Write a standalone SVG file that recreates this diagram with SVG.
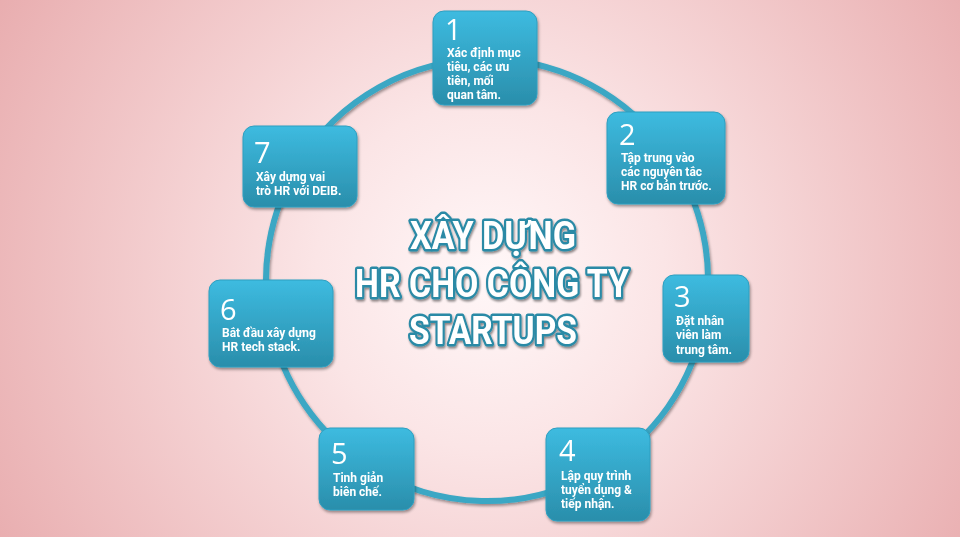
<svg xmlns="http://www.w3.org/2000/svg" width="960" height="537" viewBox="0 0 960 537">
<defs>
<radialGradient id="bg" gradientUnits="userSpaceOnUse" cx="490" cy="275" r="580">
<stop offset="0" stop-color="#fff7f8"/>
<stop offset="0.3" stop-color="#fbe5e6"/>
<stop offset="1" stop-color="#e8abad"/>
</radialGradient>
<linearGradient id="nodeg" x1="0" y1="0" x2="0" y2="1">
<stop offset="0" stop-color="#3dbbe0"/>
<stop offset="1" stop-color="#2a8eab"/>
</linearGradient>
<filter id="sh" x="-20%" y="-20%" width="140%" height="140%">
<feGaussianBlur in="SourceAlpha" stdDeviation="1.5"/>
<feOffset dx="1" dy="2" result="b"/>
<feComponentTransfer><feFuncA type="linear" slope="0.4"/></feComponentTransfer>
<feMerge><feMergeNode/><feMergeNode in="SourceGraphic"/></feMerge>
</filter>
<filter id="tsh" x="-10%" y="-20%" width="120%" height="140%">
<feGaussianBlur in="SourceAlpha" stdDeviation="1.2"/>
<feOffset dx="1" dy="2"/>
<feComponentTransfer><feFuncA type="linear" slope="0.45"/></feComponentTransfer>
<feMerge><feMergeNode/><feMergeNode in="SourceGraphic"/></feMerge>
</filter>
</defs>
<style>
.box{fill:url(#nodeg);stroke:#2f9fc0;stroke-width:1}
.num{font-family:"Open Sans","Liberation Sans",sans-serif;font-size:29px;font-weight:400;fill:#ffffff}
.lbl{font-family:Roboto,"Liberation Sans",sans-serif;font-size:12px;font-weight:bold;fill:#ffffff}
.arc{fill:none;stroke:#3aa7c4;stroke-width:6}
.title{font-family:Roboto,"Liberation Sans",sans-serif;font-size:39px;font-weight:bold;fill:#ffffff;stroke:#2a8aa6;stroke-width:5;stroke-linejoin:round;paint-order:stroke fill;text-anchor:middle}
</style>
<rect width="960" height="537" fill="url(#bg)"/>
<g id="connectors" filter="url(#sh)">
<path class="arc" d="M487,59 A221,221 0 0 1 669.6,155.5"/>
<path class="arc" d="M669.6,155.5 A221,221 0 0 1 704.8,317.8"/>
<path class="arc" d="M704.8,317.8 A221,221 0 0 1 596.3,472.1"/>
<path class="arc" d="M596.3,472.1 A221,221 0 0 1 367.9,466.2"/>
<path class="arc" d="M367.9,466.2 A221,221 0 0 1 270.3,323.3"/>
<path class="arc" d="M270.3,323.3 A221,221 0 0 1 298.4,164.9"/>
<path class="arc" d="M298.4,164.9 A221,221 0 0 1 487,59"/>
</g>
<g id="title" filter="url(#tsh)">
<text class="title" x="493" y="249" textLength="166" lengthAdjust="spacingAndGlyphs">XÂY DỰNG</text>
<text class="title" x="492" y="297" textLength="274" lengthAdjust="spacingAndGlyphs">HR CHO CÔNG TY</text>
<text class="title" x="493" y="344" textLength="168" lengthAdjust="spacingAndGlyphs">STARTUPS</text>
</g>
<g id="node1" filter="url(#sh)">
<rect class="box" x="433" y="11" width="104" height="94" rx="11"/>
<text class="num" x="445" y="40">1</text>
<text class="lbl"><tspan x="447" y="57">Xác định mục</tspan><tspan x="447" y="71">tiêu, các ưu</tspan><tspan x="447" y="85">tiên, mối</tspan><tspan x="447" y="99">quan tâm.</tspan></text>
</g>
<g id="node2" filter="url(#sh)">
<rect class="box" x="607" y="112" width="118" height="92" rx="11"/>
<text class="num" x="619" y="145">2</text>
<text class="lbl"><tspan x="621" y="162">Tập trung vào</tspan><tspan x="621" y="176">các nguyên tắc</tspan><tspan x="621" y="190">HR cơ bản trước.</tspan></text>
</g>
<g id="node3" filter="url(#sh)">
<rect class="box" x="663" y="275" width="86" height="87" rx="11"/>
<text class="num" x="674" y="307">3</text>
<text class="lbl"><tspan x="676" y="325">Đặt nhân</tspan><tspan x="676" y="339">viên làm</tspan><tspan x="676" y="354">trung tâm.</tspan></text>
</g>
<g id="node4" filter="url(#sh)">
<rect class="box" x="546" y="428" width="104" height="93" rx="11"/>
<text class="num" x="559" y="461">4</text>
<text class="lbl"><tspan x="561" y="480">Lập quy trình</tspan><tspan x="561" y="494">tuyển dụng &amp;</tspan><tspan x="561" y="508">tiếp nhận.</tspan></text>
</g>
<g id="node5" filter="url(#sh)">
<rect class="box" x="319" y="428" width="95" height="82" rx="11"/>
<text class="num" x="331" y="464">5</text>
<text class="lbl"><tspan x="333" y="482">Tinh giản</tspan><tspan x="333" y="496">biên chế.</tspan></text>
</g>
<g id="node6" filter="url(#sh)">
<rect class="box" x="209" y="280" width="124" height="87" rx="11"/>
<text class="num" x="220" y="320">6</text>
<text class="lbl"><tspan x="222" y="337">Bắt đầu xây dựng</tspan><tspan x="222" y="351">HR tech stack.</tspan></text>
</g>
<g id="node7" filter="url(#sh)">
<rect class="box" x="243" y="126" width="114" height="81" rx="11"/>
<text class="num" x="254" y="163">7</text>
<text class="lbl"><tspan x="256" y="181">Xây dựng vai</tspan><tspan x="256" y="195">trò HR với DEIB.</tspan></text>
</g>
</svg>
